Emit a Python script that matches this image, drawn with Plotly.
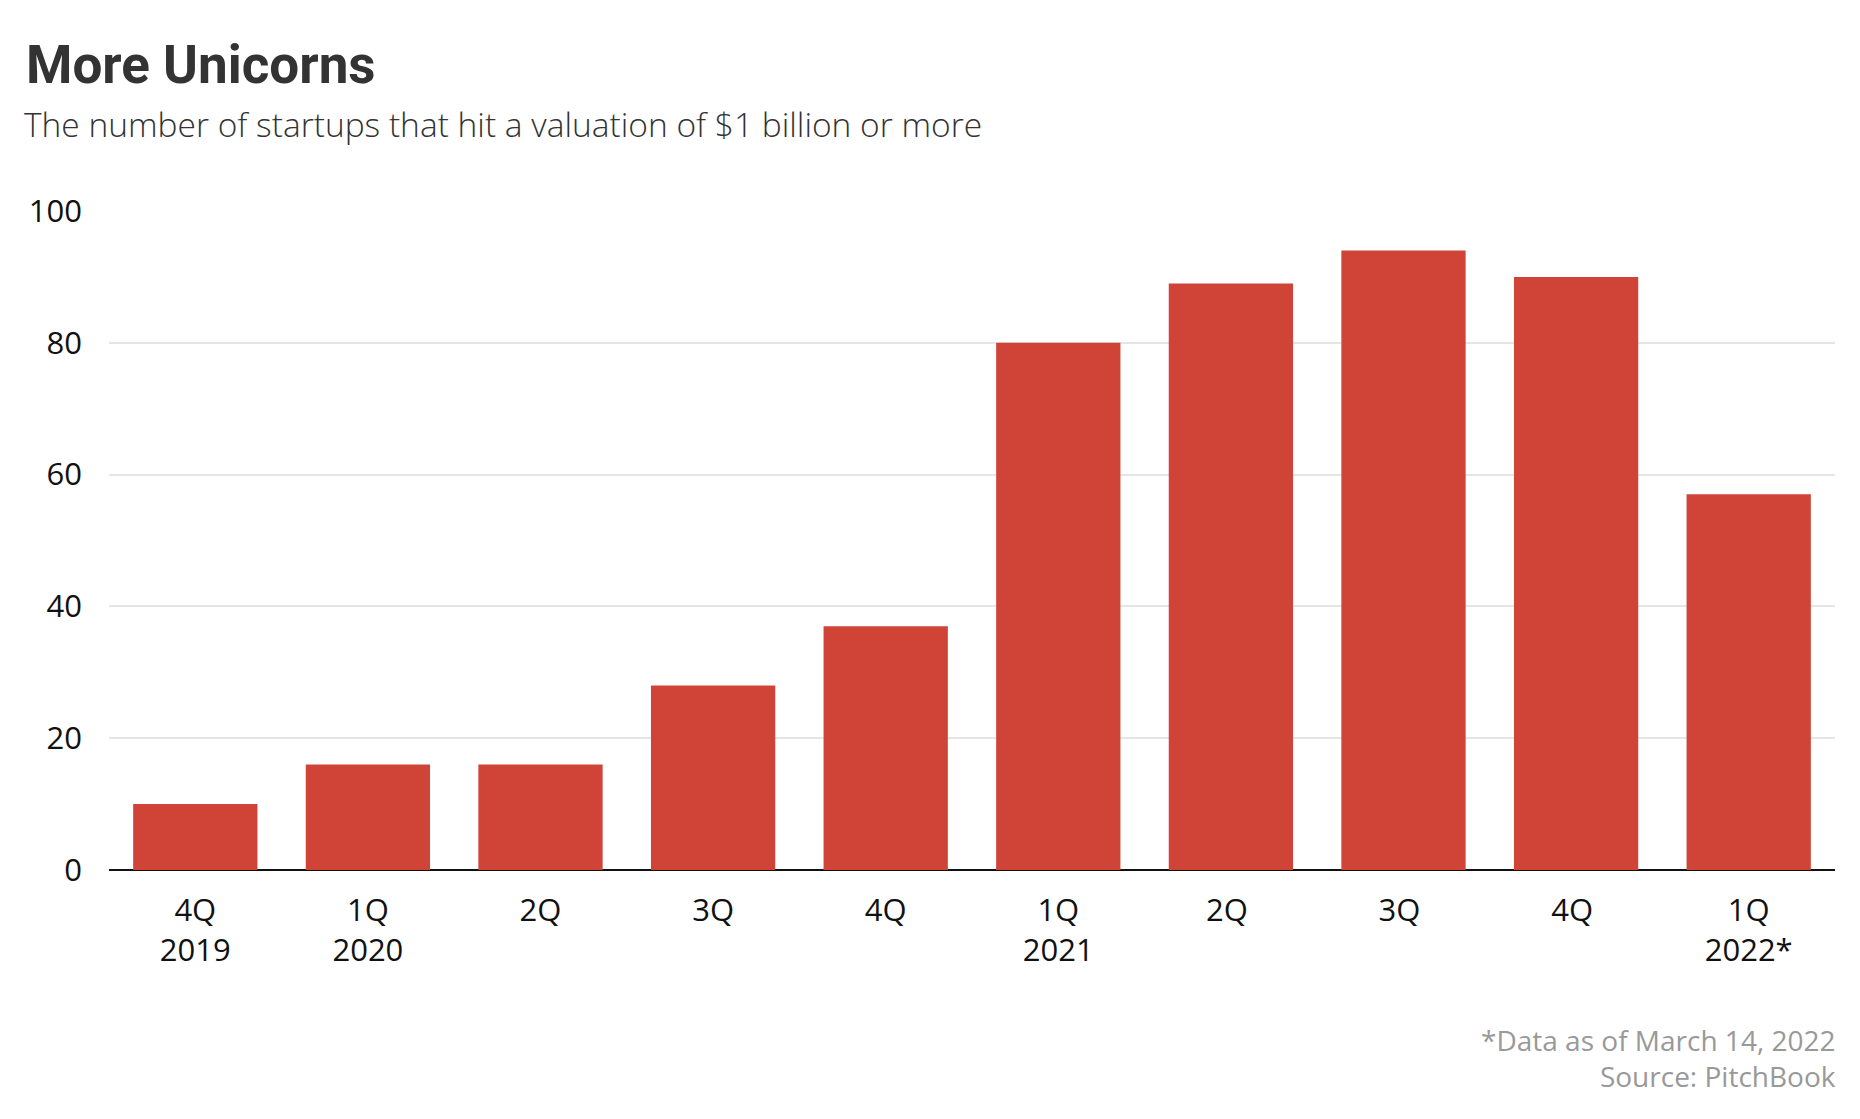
import plotly.graph_objects as go

categories = ["4Q<br>2019", "1Q<br>2020", "2Q", "3Q", "4Q", "1Q<br>2021", "2Q ", "3Q ", "4Q ", "1Q<br>2022*"]
values = [10, 16, 16, 28, 37, 80, 89, 94, 90, 57]
y_ticks = [0, 20, 40, 60, 80, 100]

BAR = "#d04437"
FONT = "Open Sans"
TITLE_FONT = "Roboto"

OFF = 8  # default page body margin
W, H = 1844, 1103
L, R, T, B = 101, 17, 203, 241
plot_h = H - T - B
plot_w = W - L - R

def py(ypx):
    return (H - B - (ypx - OFF)) / plot_h

def px(xpx):
    return (xpx - OFF - L) / plot_w

fig = go.Figure(go.Bar(
    x=list(range(len(categories))), y=values, marker_color=BAR, marker_line_width=0,
    hoverinfo="skip",
))

fig.update_layout(
    width=W, height=H,
    margin=dict(l=L, r=R, t=T, b=B),
    plot_bgcolor="white", paper_bgcolor="white",
    bargap=0.28,
    showlegend=False,
    font=dict(family=FONT, color="#111"),
    xaxis=dict(
        tickmode="array", tickvals=list(range(len(categories))), ticktext=categories,
        range=[-0.5, len(categories) - 0.5],
        showgrid=False, zeroline=False, showline=False, ticks="",
        tickfont=dict(size=31, color="#111"),
        ticklabelstandoff=19,
    ),
    yaxis=dict(
        range=[0, 100], tickvals=y_ticks,
        showgrid=True, gridcolor="#e5e5e5", gridwidth=1.5,
        zeroline=True, zerolinecolor="#111", zerolinewidth=1.5,
        showline=False, ticks="",
        tickfont=dict(size=31, color="#111"),
        ticklabelstandoff=26,
    ),
    annotations=[
        dict(text="<b>More Unicorns</b>", x=px(24), y=py(65), xref="paper", yref="paper",
             xanchor="left", yanchor="middle", showarrow=False,
             font=dict(size=53, color="#333", family=TITLE_FONT)),
        dict(text="The number of startups that hit a valuation of $1 billion or more",
             x=px(22), y=py(124), xref="paper", yref="paper",
             xanchor="left", yanchor="middle", showarrow=False,
             font=dict(size=33.5, color="#333", family=FONT, weight=300)),
        dict(text="*Data as of March 14, 2022<br>Source: PitchBook",
             x=px(1838), y=py(1058), xref="paper", yref="paper",
             xanchor="right", yanchor="middle", align="right", showarrow=False,
             font=dict(size=28, color="#999", family=FONT)),
    ],
)

fig.write_html("out.html")
